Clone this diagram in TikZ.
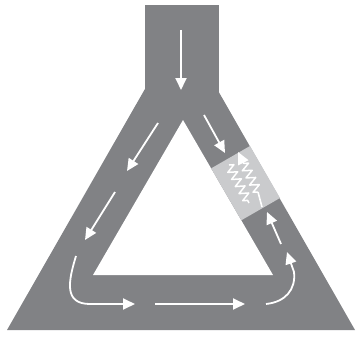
\documentclass[tikz,border=0pt]{standalone}
\usetikzlibrary{arrows.meta,decorations.pathmorphing}
\definecolor{road}{HTML}{818285}
\definecolor{patch}{HTML}{CACBCD}
\begin{document}
\begin{tikzpicture}[x=1pt,y=-1pt,
  flow/.style={draw=white, line width=1.8pt, -{Triangle[length=12pt,width=11pt]}},
  plain/.style={draw=white, line width=1.6pt},
  spring/.style={draw=white, line width=1.5pt, line join=round, decorate,
    decoration={zigzag, segment length=8pt, amplitude=4.5pt}}]
\useasboundingbox (0,0) rectangle (361,337);
% road
\coordinate (s1) at (145,5);
\coordinate (s2) at (219,5);
\coordinate (oa) at (181,26);
\coordinate (ol) at (7,330);
\coordinate (or) at (355,330);
\coordinate (ia) at (183,120);
\coordinate (il) at (93,275);
\coordinate (ir) at (273,275);
\fill[road] (s1) rectangle (219,100);
\fill[road] (oa) -- (or) -- (ol) -- cycle;
\fill[white] (ia) -- (ir) -- (il) -- cycle;
% light section
\coordinate (p1) at (250,146);
\coordinate (p2) at (280,198);
\coordinate (p3) at (241.3,220.3);
\coordinate (p4) at (211.1,168.4);
\fill[patch] (p1) -- (p2) -- (p3) -- (p4) -- cycle;
% coordinates of arrows
\coordinate (a1s) at (181,30);   \coordinate (a1e) at (181,90);
\coordinate (a2s) at (158,123);  \coordinate (a2e) at (127,171);
\coordinate (a3s) at (115,192);  \coordinate (a3e) at (85,240);
\coordinate (a4s) at (76,256);   \coordinate (a4m) at (90,304);  \coordinate (a4e) at (135,304);
\coordinate (a5s) at (155,304);  \coordinate (a5e) at (245,304);
\coordinate (a6s) at (266,304);  \coordinate (a6m) at (294,272); \coordinate (a6e) at (287,252);
\coordinate (a7s) at (281,244);  \coordinate (a7e) at (267,212);
\coordinate (a9s) at (204,115);  \coordinate (a9e) at (225,153);
\coordinate (z1s) at (229,165);  \coordinate (z1e) at (249,203);
\coordinate (z2s) at (262,207);  \coordinate (z2a) at (258,192);
\coordinate (z2b) at (243,162);  \coordinate (z2e) at (238,152);
% arrows
\draw[flow] (a1s) -- (a1e);
\draw[flow] (a2s) -- (a2e);
\draw[flow] (a3s) -- (a3e);
\draw[flow] (a4s) .. controls (68,282) and (64,304) .. (a4m) -- (a4e);
\draw[flow] (a5s) -- (a5e);
\draw[flow] (a6s) .. controls (285,302) and (296,290) .. (a6m) -- (a6e);
\draw[flow] (a7s) -- (a7e);
\draw[flow] (a9s) -- (a9e);
% zigzags in the light section
\draw[spring] (z1s) -- (z1e);
\draw[plain] (z2s) -- (z2a);
\draw[spring] (z2a) -- (z2b);
\draw[flow] (z2b) -- (z2e);
\end{tikzpicture}
\end{document}
